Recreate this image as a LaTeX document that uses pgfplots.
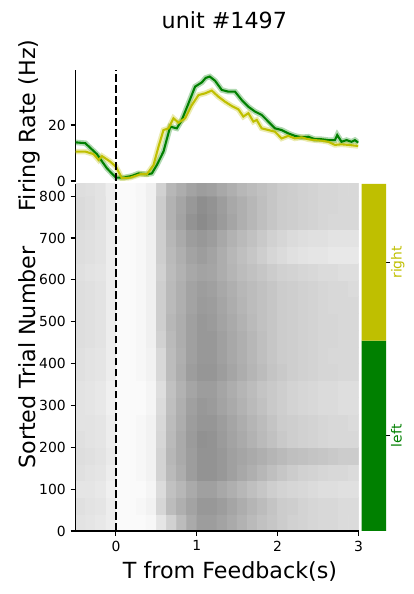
\documentclass[border=0pt]{standalone}
\usepackage{fontspec}
\setmainfont{DejaVu Sans}
\usepackage{pgfplots}
\usepackage{pgfplotstable}
\pgfplotsset{compat=1.18}
\definecolor{mgreen}{HTML}{008000}
\definecolor{myellow}{HTML}{BFBF00}

\pgfplotstableread{
t r
-0.500 13.8
-0.379 13.5
-0.235 9.6
-0.111 4.5
0.000 1.2
0.095 1.2
0.198 1.8
0.280 2.7
0.383 2.4
0.444 2.7
0.506 5.7
0.588 10.5
0.671 19.4
0.753 18.8
0.815 21.8
0.897 27.7
0.979 33.7
1.062 35.2
1.110 36.8
1.160 37.3
1.226 35.8
1.309 32.5
1.391 31.9
1.473 31.9
1.556 28.9
1.638 26.5
1.720 24.8
1.802 23.6
1.885 21.2
1.967 18.8
2.049 18.2
2.132 17.0
2.214 16.1
2.296 15.6
2.379 15.8
2.461 14.9
2.543 14.9
2.626 14.6
2.708 14.6
2.737 16.4
2.790 14.0
2.852 14.6
2.914 14.0
2.955 14.6
2.996 13.7
}\greendata

\pgfplotstableread{
t r
-0.500 10.5
-0.379 10.5
-0.276 9.6
-0.214 7.5
-0.173 8.9
-0.070 6.9
0.000 5.1
0.074 1.0
0.177 1.2
0.300 2.4
0.383 2.4
0.465 5.7
0.527 12.3
0.588 18.2
0.650 18.8
0.712 22.4
0.774 20.8
0.856 22.4
0.938 27.1
1.021 30.7
1.103 31.3
1.185 32.3
1.267 30.1
1.350 28.3
1.432 26.8
1.514 25.6
1.576 23.0
1.638 24.2
1.700 21.2
1.741 21.8
1.802 18.8
1.885 18.2
1.967 17.6
2.049 15.2
2.132 16.1
2.214 15.2
2.296 15.6
2.379 14.9
2.461 14.6
2.543 14.4
2.626 14.0
2.708 12.9
2.790 13.1
2.872 12.9
2.996 12.5
}\yellowdata

\begin{document}
\begin{tikzpicture}
\path[use as bounding box] (0,0) rectangle (297.36pt,427.68pt);
\pgfplotsset{every axis/.append style={
  scale only axis,
  /pgf/number format/assume math mode=true,
  tick label style={font=\fontsize{10}{12}\selectfont},
  tick align=outside,
  major tick length=3.5pt,
  every tick/.style={black, line width=0.8pt},
  axis line style={line width=0.8pt},
}}

% ---------- raster ----------
\begin{axis}[at={(54.36pt,45.36pt)}, anchor=south west,
  width=203.76pt, height=249.84pt,
  xmin=-0.5, xmax=3, ymin=0, ymax=829,
  axis x line*=bottom, axis y line*=left,
  axis on top,
  xtick={0,1,2,3}, ytick={0,100,200,300,400,500,600,700,800},
  colormap={bw}{color=(white) color=(black)},
  point meta min=0, point meta max=1,
  enlargelimits=false]
\addplot[matrix plot*, mesh/cols=28, point meta=explicit] table[row sep=\\, meta=c] {
x y c\\
-0.4375 20 0.11\\-0.3125 20 0.10\\-0.1875 20 0.09\\-0.0625 20 0.07\\0.0625 20 0.02\\0.1875 20 0.02\\0.3125 20 0.02\\0.4375 20 0.03\\0.5625 20 0.10\\0.6875 20 0.18\\0.8125 20 0.26\\0.9375 20 0.33\\1.0625 20 0.38\\1.1875 20 0.38\\1.3125 20 0.36\\1.4375 20 0.33\\1.5625 20 0.30\\1.6875 20 0.27\\1.8125 20 0.24\\1.9375 20 0.22\\2.0625 20 0.20\\2.1875 20 0.18\\2.3125 20 0.17\\2.4375 20 0.16\\2.5625 20 0.15\\2.6875 20 0.15\\2.8125 20 0.14\\2.9375 20 0.14\\
-0.4375 60 0.12\\-0.3125 60 0.11\\-0.1875 60 0.10\\-0.0625 60 0.07\\0.0625 60 0.02\\0.1875 60 0.02\\0.3125 60 0.03\\0.4375 60 0.05\\0.5625 60 0.16\\0.6875 60 0.26\\0.8125 60 0.31\\0.9375 60 0.36\\1.0625 60 0.40\\1.1875 60 0.40\\1.3125 60 0.38\\1.4375 60 0.35\\1.5625 60 0.32\\1.6875 60 0.29\\1.8125 60 0.26\\1.9375 60 0.23\\2.0625 60 0.20\\2.1875 60 0.19\\2.3125 60 0.17\\2.4375 60 0.16\\2.5625 60 0.15\\2.6875 60 0.15\\2.8125 60 0.14\\2.9375 60 0.14\\
-0.4375 100 0.10\\-0.3125 100 0.10\\-0.1875 100 0.09\\-0.0625 100 0.06\\0.0625 100 0.02\\0.1875 100 0.02\\0.3125 100 0.02\\0.4375 100 0.04\\0.5625 100 0.14\\0.6875 100 0.24\\0.8125 100 0.28\\0.9375 100 0.33\\1.0625 100 0.37\\1.1875 100 0.37\\1.3125 100 0.34\\1.4375 100 0.31\\1.5625 100 0.28\\1.6875 100 0.25\\1.8125 100 0.22\\1.9375 100 0.19\\2.0625 100 0.17\\2.1875 100 0.16\\2.3125 100 0.15\\2.4375 100 0.14\\2.5625 100 0.13\\2.6875 100 0.13\\2.8125 100 0.12\\2.9375 100 0.12\\
-0.4375 140 0.12\\-0.3125 140 0.11\\-0.1875 140 0.10\\-0.0625 140 0.07\\0.0625 140 0.02\\0.1875 140 0.02\\0.3125 140 0.03\\0.4375 140 0.05\\0.5625 140 0.17\\0.6875 140 0.27\\0.8125 140 0.32\\0.9375 140 0.38\\1.0625 140 0.42\\1.1875 140 0.42\\1.3125 140 0.40\\1.4375 140 0.37\\1.5625 140 0.34\\1.6875 140 0.31\\1.8125 140 0.28\\1.9375 140 0.25\\2.0625 140 0.22\\2.1875 140 0.20\\2.3125 140 0.18\\2.4375 140 0.17\\2.5625 140 0.16\\2.6875 140 0.15\\2.8125 140 0.15\\2.9375 140 0.14\\
-0.4375 180 0.13\\-0.3125 180 0.12\\-0.1875 180 0.11\\-0.0625 180 0.08\\0.0625 180 0.02\\0.1875 180 0.02\\0.3125 180 0.03\\0.4375 180 0.05\\0.5625 180 0.17\\0.6875 180 0.28\\0.8125 180 0.33\\0.9375 180 0.38\\1.0625 180 0.42\\1.1875 180 0.42\\1.3125 180 0.40\\1.4375 180 0.37\\1.5625 180 0.35\\1.6875 180 0.33\\1.8125 180 0.31\\1.9375 180 0.29\\2.0625 180 0.27\\2.1875 180 0.25\\2.3125 180 0.24\\2.4375 180 0.23\\2.5625 180 0.22\\2.6875 180 0.21\\2.8125 180 0.20\\2.9375 180 0.20\\
-0.4375 220 0.12\\-0.3125 220 0.11\\-0.1875 220 0.10\\-0.0625 220 0.07\\0.0625 220 0.02\\0.1875 220 0.02\\0.3125 220 0.03\\0.4375 220 0.05\\0.5625 220 0.16\\0.6875 220 0.27\\0.8125 220 0.33\\0.9375 220 0.39\\1.0625 220 0.43\\1.1875 220 0.42\\1.3125 220 0.39\\1.4375 220 0.36\\1.5625 220 0.33\\1.6875 220 0.30\\1.8125 220 0.27\\1.9375 220 0.24\\2.0625 220 0.21\\2.1875 220 0.19\\2.3125 220 0.18\\2.4375 220 0.17\\2.5625 220 0.16\\2.6875 220 0.15\\2.8125 220 0.15\\2.9375 220 0.15\\
-0.4375 260 0.11\\-0.3125 260 0.11\\-0.1875 260 0.10\\-0.0625 260 0.07\\0.0625 260 0.02\\0.1875 260 0.02\\0.3125 260 0.03\\0.4375 260 0.05\\0.5625 260 0.15\\0.6875 260 0.26\\0.8125 260 0.32\\0.9375 260 0.38\\1.0625 260 0.41\\1.1875 260 0.41\\1.3125 260 0.38\\1.4375 260 0.35\\1.5625 260 0.32\\1.6875 260 0.29\\1.8125 260 0.26\\1.9375 260 0.23\\2.0625 260 0.20\\2.1875 260 0.19\\2.3125 260 0.18\\2.4375 260 0.17\\2.5625 260 0.16\\2.6875 260 0.15\\2.8125 260 0.15\\2.9375 260 0.14\\
-0.4375 300 0.11\\-0.3125 300 0.10\\-0.1875 300 0.09\\-0.0625 300 0.06\\0.0625 300 0.02\\0.1875 300 0.02\\0.3125 300 0.02\\0.4375 300 0.04\\0.5625 300 0.14\\0.6875 300 0.25\\0.8125 300 0.31\\0.9375 300 0.37\\1.0625 300 0.40\\1.1875 300 0.39\\1.3125 300 0.36\\1.4375 300 0.33\\1.5625 300 0.30\\1.6875 300 0.27\\1.8125 300 0.24\\1.9375 300 0.21\\2.0625 300 0.19\\2.1875 300 0.17\\2.3125 300 0.16\\2.4375 300 0.15\\2.5625 300 0.14\\2.6875 300 0.14\\2.8125 300 0.13\\2.9375 300 0.13\\
-0.4375 340 0.11\\-0.3125 340 0.10\\-0.1875 340 0.09\\-0.0625 340 0.06\\0.0625 340 0.02\\0.1875 340 0.02\\0.3125 340 0.02\\0.4375 340 0.04\\0.5625 340 0.13\\0.6875 340 0.24\\0.8125 340 0.30\\0.9375 340 0.35\\1.0625 340 0.38\\1.1875 340 0.38\\1.3125 340 0.35\\1.4375 340 0.32\\1.5625 340 0.29\\1.6875 340 0.26\\1.8125 340 0.23\\1.9375 340 0.21\\2.0625 340 0.19\\2.1875 340 0.17\\2.3125 340 0.16\\2.4375 340 0.15\\2.5625 340 0.14\\2.6875 340 0.14\\2.8125 340 0.13\\2.9375 340 0.13\\
-0.4375 380 0.12\\-0.3125 380 0.11\\-0.1875 380 0.10\\-0.0625 380 0.07\\0.0625 380 0.02\\0.1875 380 0.02\\0.3125 380 0.03\\0.4375 380 0.05\\0.5625 380 0.15\\0.6875 380 0.26\\0.8125 380 0.32\\0.9375 380 0.38\\1.0625 380 0.41\\1.1875 380 0.41\\1.3125 380 0.38\\1.4375 380 0.35\\1.5625 380 0.32\\1.6875 380 0.29\\1.8125 380 0.26\\1.9375 380 0.23\\2.0625 380 0.21\\2.1875 380 0.19\\2.3125 380 0.18\\2.4375 380 0.17\\2.5625 380 0.16\\2.6875 380 0.16\\2.8125 380 0.15\\2.9375 380 0.15\\
-0.4375 420 0.12\\-0.3125 420 0.11\\-0.1875 420 0.10\\-0.0625 420 0.07\\0.0625 420 0.02\\0.1875 420 0.02\\0.3125 420 0.03\\0.4375 420 0.05\\0.5625 420 0.15\\0.6875 420 0.26\\0.8125 420 0.31\\0.9375 420 0.37\\1.0625 420 0.40\\1.1875 420 0.40\\1.3125 420 0.37\\1.4375 420 0.34\\1.5625 420 0.31\\1.6875 420 0.28\\1.8125 420 0.25\\1.9375 420 0.22\\2.0625 420 0.20\\2.1875 420 0.19\\2.3125 420 0.18\\2.4375 420 0.17\\2.5625 420 0.16\\2.6875 420 0.15\\2.8125 420 0.15\\2.9375 420 0.15\\
-0.4375 460 0.13\\-0.3125 460 0.12\\-0.1875 460 0.11\\-0.0625 460 0.07\\0.0625 460 0.02\\0.1875 460 0.02\\0.3125 460 0.03\\0.4375 460 0.06\\0.5625 460 0.18\\0.6875 460 0.27\\0.8125 460 0.32\\0.9375 460 0.37\\1.0625 460 0.40\\1.1875 460 0.40\\1.3125 460 0.37\\1.4375 460 0.34\\1.5625 460 0.31\\1.6875 460 0.28\\1.8125 460 0.25\\1.9375 460 0.22\\2.0625 460 0.20\\2.1875 460 0.19\\2.3125 460 0.18\\2.4375 460 0.17\\2.5625 460 0.16\\2.6875 460 0.16\\2.8125 460 0.15\\2.9375 460 0.15\\
-0.4375 500 0.13\\-0.3125 500 0.12\\-0.1875 500 0.11\\-0.0625 500 0.07\\0.0625 500 0.02\\0.1875 500 0.02\\0.3125 500 0.03\\0.4375 500 0.06\\0.5625 500 0.19\\0.6875 500 0.28\\0.8125 500 0.32\\0.9375 500 0.37\\1.0625 500 0.40\\1.1875 500 0.39\\1.3125 500 0.36\\1.4375 500 0.33\\1.5625 500 0.30\\1.6875 500 0.27\\1.8125 500 0.24\\1.9375 500 0.22\\2.0625 500 0.20\\2.1875 500 0.19\\2.3125 500 0.18\\2.4375 500 0.17\\2.5625 500 0.16\\2.6875 500 0.16\\2.8125 500 0.15\\2.9375 500 0.15\\
-0.4375 540 0.13\\-0.3125 540 0.12\\-0.1875 540 0.11\\-0.0625 540 0.07\\0.0625 540 0.02\\0.1875 540 0.02\\0.3125 540 0.03\\0.4375 540 0.06\\0.5625 540 0.19\\0.6875 540 0.27\\0.8125 540 0.31\\0.9375 540 0.36\\1.0625 540 0.39\\1.1875 540 0.38\\1.3125 540 0.35\\1.4375 540 0.32\\1.5625 540 0.29\\1.6875 540 0.26\\1.8125 540 0.24\\1.9375 540 0.22\\2.0625 540 0.20\\2.1875 540 0.19\\2.3125 540 0.18\\2.4375 540 0.17\\2.5625 540 0.16\\2.6875 540 0.15\\2.8125 540 0.15\\2.9375 540 0.15\\
-0.4375 580 0.13\\-0.3125 580 0.12\\-0.1875 580 0.11\\-0.0625 580 0.07\\0.0625 580 0.02\\0.1875 580 0.02\\0.3125 580 0.03\\0.4375 580 0.06\\0.5625 580 0.19\\0.6875 580 0.27\\0.8125 580 0.31\\0.9375 580 0.36\\1.0625 580 0.38\\1.1875 580 0.37\\1.3125 580 0.34\\1.4375 580 0.31\\1.5625 580 0.28\\1.6875 580 0.26\\1.8125 580 0.24\\1.9375 580 0.22\\2.0625 580 0.20\\2.1875 580 0.19\\2.3125 580 0.18\\2.4375 580 0.17\\2.5625 580 0.16\\2.6875 580 0.15\\2.8125 580 0.15\\2.9375 580 0.14\\
-0.4375 620 0.12\\-0.3125 620 0.11\\-0.1875 620 0.10\\-0.0625 620 0.07\\0.0625 620 0.02\\0.1875 620 0.02\\0.3125 620 0.03\\0.4375 620 0.06\\0.5625 620 0.18\\0.6875 620 0.26\\0.8125 620 0.30\\0.9375 620 0.34\\1.0625 620 0.36\\1.1875 620 0.35\\1.3125 620 0.32\\1.4375 620 0.29\\1.5625 620 0.26\\1.6875 620 0.24\\1.8125 620 0.22\\1.9375 620 0.20\\2.0625 620 0.18\\2.1875 620 0.17\\2.3125 620 0.16\\2.4375 620 0.15\\2.5625 620 0.14\\2.6875 620 0.14\\2.8125 620 0.13\\2.9375 620 0.13\\
-0.4375 660 0.13\\-0.3125 660 0.12\\-0.1875 660 0.11\\-0.0625 660 0.07\\0.0625 660 0.02\\0.1875 660 0.02\\0.3125 660 0.03\\0.4375 660 0.06\\0.5625 660 0.19\\0.6875 660 0.27\\0.8125 660 0.31\\0.9375 660 0.36\\1.0625 660 0.38\\1.1875 660 0.36\\1.3125 660 0.32\\1.4375 660 0.28\\1.5625 660 0.25\\1.6875 660 0.22\\1.8125 660 0.19\\1.9375 660 0.16\\2.0625 660 0.14\\2.1875 660 0.12\\2.3125 660 0.11\\2.4375 660 0.10\\2.5625 660 0.10\\2.6875 660 0.09\\2.8125 660 0.09\\2.9375 660 0.09\\
-0.4375 700 0.13\\-0.3125 700 0.12\\-0.1875 700 0.11\\-0.0625 700 0.07\\0.0625 700 0.02\\0.1875 700 0.02\\0.3125 700 0.03\\0.4375 700 0.06\\0.5625 700 0.19\\0.6875 700 0.28\\0.8125 700 0.33\\0.9375 700 0.38\\1.0625 700 0.40\\1.1875 700 0.38\\1.3125 700 0.34\\1.4375 700 0.30\\1.5625 700 0.27\\1.6875 700 0.24\\1.8125 700 0.21\\1.9375 700 0.18\\2.0625 700 0.16\\2.1875 700 0.14\\2.3125 700 0.13\\2.4375 700 0.12\\2.5625 700 0.12\\2.6875 700 0.11\\2.8125 700 0.11\\2.9375 700 0.11\\
-0.4375 740 0.14\\-0.3125 740 0.13\\-0.1875 740 0.11\\-0.0625 740 0.07\\0.0625 740 0.02\\0.1875 740 0.02\\0.3125 740 0.03\\0.4375 740 0.06\\0.5625 740 0.20\\0.6875 740 0.30\\0.8125 740 0.36\\0.9375 740 0.42\\1.0625 740 0.45\\1.1875 740 0.43\\1.3125 740 0.39\\1.4375 740 0.35\\1.5625 740 0.31\\1.6875 740 0.28\\1.8125 740 0.25\\1.9375 740 0.22\\2.0625 740 0.20\\2.1875 740 0.19\\2.3125 740 0.18\\2.4375 740 0.17\\2.5625 740 0.16\\2.6875 740 0.15\\2.8125 740 0.15\\2.9375 740 0.15\\
-0.4375 780 0.14\\-0.3125 780 0.13\\-0.1875 780 0.11\\-0.0625 780 0.07\\0.0625 780 0.02\\0.1875 780 0.02\\0.3125 780 0.03\\0.4375 780 0.06\\0.5625 780 0.20\\0.6875 780 0.30\\0.8125 780 0.35\\0.9375 780 0.40\\1.0625 780 0.44\\1.1875 780 0.42\\1.3125 780 0.38\\1.4375 780 0.34\\1.5625 780 0.31\\1.6875 780 0.28\\1.8125 780 0.25\\1.9375 780 0.22\\2.0625 780 0.20\\2.1875 780 0.19\\2.3125 780 0.18\\2.4375 780 0.17\\2.5625 780 0.16\\2.6875 780 0.16\\2.8125 780 0.15\\2.9375 780 0.15\\
-0.4375 820 0.13\\-0.3125 820 0.12\\-0.1875 820 0.11\\-0.0625 820 0.07\\0.0625 820 0.02\\0.1875 820 0.02\\0.3125 820 0.03\\0.4375 820 0.06\\0.5625 820 0.18\\0.6875 820 0.28\\0.8125 820 0.32\\0.9375 820 0.36\\1.0625 820 0.38\\1.1875 820 0.37\\1.3125 820 0.34\\1.4375 820 0.31\\1.5625 820 0.28\\1.6875 820 0.26\\1.8125 820 0.24\\1.9375 820 0.22\\2.0625 820 0.20\\2.1875 820 0.19\\2.3125 820 0.18\\2.4375 820 0.17\\2.5625 820 0.16\\2.6875 820 0.16\\2.8125 820 0.15\\2.9375 820 0.15\\
};
\addplot[black, line width=1.5pt, dash pattern=on 5.55pt off 2.4pt] coordinates {(0,0) (0,829)};
\end{axis}

% ---------- PSTH ----------
\begin{axis}[at={(54.36pt,297.36pt)}, anchor=south west,
  width=203.76pt, height=79.92pt,
  xmin=-0.5, xmax=3, ymin=0, ymax=39.64,
  axis x line=none, axis y line*=left,
  ytick={0,20}]
\addplot[mgreen, line width=4pt, opacity=0.3] table[x=t, y=r] {\greendata};
\addplot[myellow, line width=4pt, opacity=0.3] table[x=t, y=r] {\yellowdata};
\addplot[mgreen, line width=1.5pt] table[x=t, y=r] {\greendata};
\addplot[myellow, line width=1.5pt] table[x=t, y=r] {\yellowdata};
\addplot[black, line width=1.5pt, dash pattern=on 5.55pt off 2.4pt] coordinates {(0,0) (0,39.64)};
\end{axis}

% ---------- side bar ----------
\begin{axis}[at={(260.42pt,45.36pt)}, anchor=south west,
  width=17.5pt, height=249.84pt,
  xmin=0, xmax=1, ymin=0, ymax=829,
  axis x line=none, axis y line*=right,
  y axis line style={draw=none},
  major tick length=3pt,
  ytick={227.5,642},
  yticklabels={{\textcolor{mgreen}{left}},{\textcolor{myellow}{right}}},
  yticklabel style={rotate=90, anchor=north, inner sep=0.5pt}]
\addplot[fill=mgreen, draw=none] coordinates {(0,0) (1,0) (1,455) (0,455) (0,0)};
\addplot[fill=myellow, draw=none] coordinates {(0,455) (1,455) (1,829) (0,829) (0,455)};
\end{axis}

\node[anchor=base, font=\fontsize{16}{19}\selectfont] at (161.5pt,407.3pt) {unit \#1497};
\node[anchor=base, rotate=90, font=\fontsize{16}{19}\selectfont] at (25.92pt,337.32pt) {Firing Rate (Hz)};
\node[anchor=base, rotate=90, font=\fontsize{16}{19}\selectfont] at (25.92pt,170.28pt) {Sorted Trial Number};
\node[anchor=base, font=\fontsize{16}{19}\selectfont] at (165.6pt,10.8pt) {T from Feedback(s)};
\end{tikzpicture}
\end{document}
